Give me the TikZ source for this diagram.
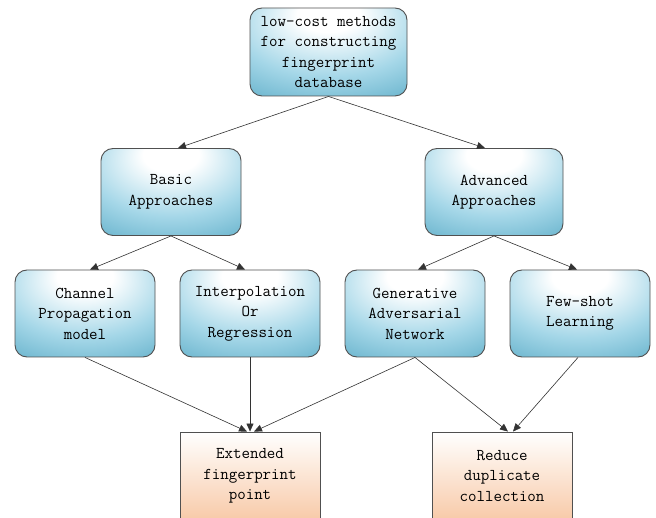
\documentclass[tikz,border=0pt]{standalone}
\usetikzlibrary{arrows.meta}
\definecolor{bluebot}{RGB}{68,158,188}
\definecolor{bluemid}{RGB}{165,215,232}
\definecolor{peach}{RGB}{248,202,168}
\definecolor{edgegray}{RGB}{80,80,80}
\pgfdeclareradialshading{bluerad}{\pgfpoint{0bp}{24bp}}{color(0bp)=(white); color(10bp)=(white); color(30bp)=(bluemid); color(56bp)=(bluebot); color(90bp)=(bluebot)}
\begin{document}
\begin{tikzpicture}[x=1pt,y=-1pt,
  font=\ttfamily\fontsize{16.5}{20.5}\selectfont,
  bluebox/.style={draw=edgegray, line width=0.9pt, rounded corners=12pt,
    shading=bluerad,
    minimum width=140pt, minimum height=87pt, align=center, inner sep=2pt},
  orangebox/.style={draw=edgegray, line width=0.9pt,
    top color=white, bottom color=peach,
    minimum width=140pt, minimum height=88pt, align=center, inner sep=2pt},
  conn/.style={draw=black!80, line width=0.6pt, -{Triangle[length=8pt,width=7pt]}}]
\useasboundingbox (0,0) rectangle (656,518);
\clip (0,0) rectangle (656,517.3);
\fill[white] (0,0) rectangle (656,518);
\node[bluebox, minimum width=157pt, minimum height=88pt] (top) at (328.5,52) {low-cost methods\\for constructing\\fingerprint\\database};
\node[bluebox] (basic) at (171,192) {Basic\\Approaches};
\node[bluebox, minimum width=138pt] (adv) at (494,192) {Advanced\\Approaches};
\node[bluebox] (chan) at (85,313.5) {Channel\\Propagation\\model};
\node[bluebox] (interp) at (250,313.5) {Interpolation\\Or\\Regression};
\node[bluebox] (gan) at (415,313.5) {Generative\\Adversarial\\Network};
\node[bluebox] (few) at (580,313.5) {Few-shot\\Learning};
\node[orangebox] (ext) at (250,476) {Extended\\fingerprint\\point};
\node[orangebox] (red) at (502,476) {Reduce\\duplicate\\collection};
\coordinate (topb) at (top.south);
\draw[conn] (topb) -- ([xshift=7pt]basic.north);
\draw[conn] (topb) -- ([xshift=-9pt]adv.north);
\draw[conn] (basic.south) -- ([xshift=5pt]chan.north);
\draw[conn] (basic.south) -- ([xshift=-5pt]interp.north);
\draw[conn] (adv.south) -- ([xshift=3pt]gan.north);
\draw[conn] (adv.south) -- ([xshift=-3pt]few.north);
\draw[conn] (chan.south) -- ([xshift=-3pt]ext.north);
\draw[conn] (interp.south) -- (ext.north);
\draw[conn] (gan.south) -- ([xshift=4pt]ext.north);
\draw[conn] (gan.south) -- ([xshift=6pt]red.north);
\draw[conn] ([xshift=-2pt]few.south) -- ([xshift=11pt]red.north);
\end{tikzpicture}
\end{document}
